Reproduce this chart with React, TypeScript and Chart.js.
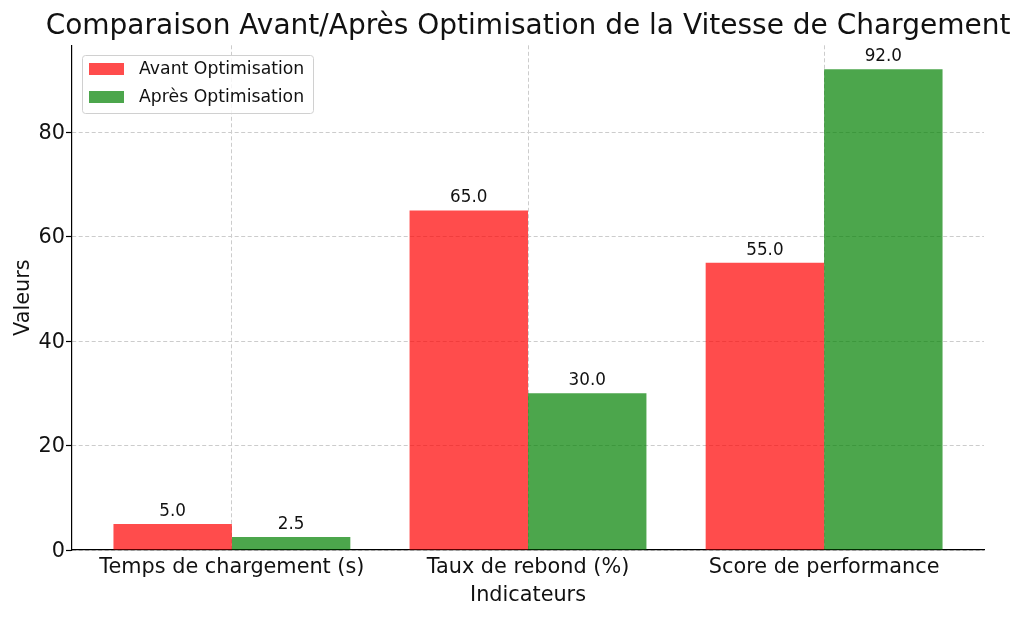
import { useEffect, useRef } from 'react';
import { Chart, ChartConfiguration, Plugin, registerables } from 'chart.js';

Chart.register(...registerables);

const FONT = '"DejaVu Sans", "Liberation Sans", sans-serif';

const chartTitle = 'Comparaison Avant/Après Optimisation de la Vitesse de Chargement';
const xAxisTitle = 'Indicateurs';
const yAxisTitle = 'Valeurs';

const categories = ['Temps de chargement (s)', 'Taux de rebond (%)', 'Score de performance'];
const avantValues = [5.0, 65.0, 55.0];
const apresValues = [2.5, 30.0, 92.0];
const seriesLabels = ['Avant Optimisation', 'Après Optimisation'];
const seriesColors = ['rgba(255, 0, 0, 0.7)', 'rgba(0, 128, 0, 0.7)'];
const yTicks = [0, 20, 40, 60, 80];

// draws title, axis titles, legend box and value labels
const annotations: Plugin = {
  id: 'annotations',
  afterDraw(chart) {
    const { ctx, chartArea } = chart;
    const cx = (chartArea.left + chartArea.right) / 2;
    ctx.save();
    ctx.fillStyle = '#111';

    // title
    ctx.font = `28px ${FONT}`;
    ctx.textAlign = 'center';
    ctx.textBaseline = 'alphabetic';
    ctx.fillText(chartTitle, cx, 34);

    // axis titles
    ctx.font = `20.8px ${FONT}`;
    ctx.fillText(xAxisTitle, cx, 601);
    ctx.save();
    ctx.translate(29, (chartArea.top + chartArea.bottom) / 2);
    ctx.rotate(-Math.PI / 2);
    ctx.fillText(yAxisTitle, 0, 0);
    ctx.restore();

    // value labels
    ctx.font = `16.8px ${FONT}`;
    chart.data.datasets.forEach((ds, di) => {
      const meta = chart.getDatasetMeta(di);
      meta.data.forEach((bar, i) => {
        const v = (ds.data[i] as { x: number; y: number }).y;
        ctx.fillText(v.toFixed(1), bar.x, bar.y - 8);
      });
    });

    // legend
    const lx = 82;
    const ly = 55;
    ctx.beginPath();
    ctx.roundRect(lx + 0.5, ly + 0.5, 231, 58, 3);
    ctx.fillStyle = 'rgba(255,255,255,0.8)';
    ctx.fill();
    ctx.strokeStyle = '#d0d0d0';
    ctx.lineWidth = 1;
    ctx.stroke();
    ctx.font = `17.3px ${FONT}`;
    ctx.textAlign = 'left';
    ctx.textBaseline = 'middle';
    seriesLabels.forEach((label, i) => {
      const rowY = ly + 14 + i * 28;
      ctx.fillStyle = seriesColors[i];
      ctx.fillRect(lx + 7, rowY - 6, 35, 12);
      ctx.fillStyle = '#111';
      ctx.fillText(label, lx + 57, rowY + 1);
    });

    ctx.restore();
  },
};

export default function App() {
  const canvasRef = useRef<HTMLCanvasElement>(null);
  const chartRef = useRef<Chart | null>(null);

  useEffect(() => {
    if (!canvasRef.current) return;
    if (chartRef.current) chartRef.current.destroy();

    const config: ChartConfiguration = {
      type: 'bar',
      data: {
        datasets: [avantValues, apresValues].map((values, di) => ({
          label: seriesLabels[di],
          data: values.map((y, i) => ({ x: i, y })),
          backgroundColor: seriesColors[di],
          borderWidth: 0,
          categoryPercentage: 0.8,
          barPercentage: 1.0,
        })),
      },
      options: {
        responsive: true,
        maintainAspectRatio: false,
        animation: false,
        layout: { padding: { top: 45.3, right: 40, bottom: 0, left: 0 } },
        plugins: {
          legend: { display: false },
          title: { display: false },
          tooltip: { enabled: false },
        },
        scales: {
          x: {
            type: 'linear',
            min: -0.54,
            max: 2.54,
            offset: false,
            afterBuildTicks: (scale) => {
              scale.ticks = categories.map((_, i) => ({ value: i }));
            },
            afterFit: (scale) => {
              scale.height = 68;
            },
            ticks: {
              callback: (value) => categories[Number(value)] ?? '',
              font: { family: FONT, size: 20.8 },
              color: '#111',
              padding: 5,
              maxRotation: 0,
              autoSkip: false,
            },
            grid: {
              offset: false,
              color: '#cccccc',
              lineWidth: 1,
              drawTicks: false,
            },
            border: { display: true, color: '#000', width: 1.2, dash: [4, 2.5] },
          },
          y: {
            type: 'linear',
            min: 0,
            max: 96.6,
            afterBuildTicks: (scale) => {
              scale.ticks = yTicks.map((v) => ({ value: v }));
            },
            afterFit: (scale) => {
              scale.width = 72;
            },
            ticks: {
              font: { family: FONT, size: 20.8 },
              color: '#111',
              padding: 1,
              labelOffset: 1.5,
            },
            grid: {
              color: '#cccccc',
              lineWidth: 1,
              drawTicks: true,
              tickLength: 6,
              tickColor: '#000',
              tickWidth: 1.2,
              tickBorderDash: [],
            },
            border: { display: true, color: '#000', width: 1.2, dash: [4, 2.5] },
          },
        },
      },
      plugins: [annotations],
    };

    chartRef.current = new Chart(canvasRef.current, config);

    return () => {
      if (chartRef.current) {
        chartRef.current.destroy();
        chartRef.current = null;
      }
    };
  }, []);

  return (
    <div style={{ position: 'fixed', left: 0, top: 0, width: 1024, height: 618, background: '#fff' }}>
      <canvas ref={canvasRef}></canvas>
    </div>
  );
}
